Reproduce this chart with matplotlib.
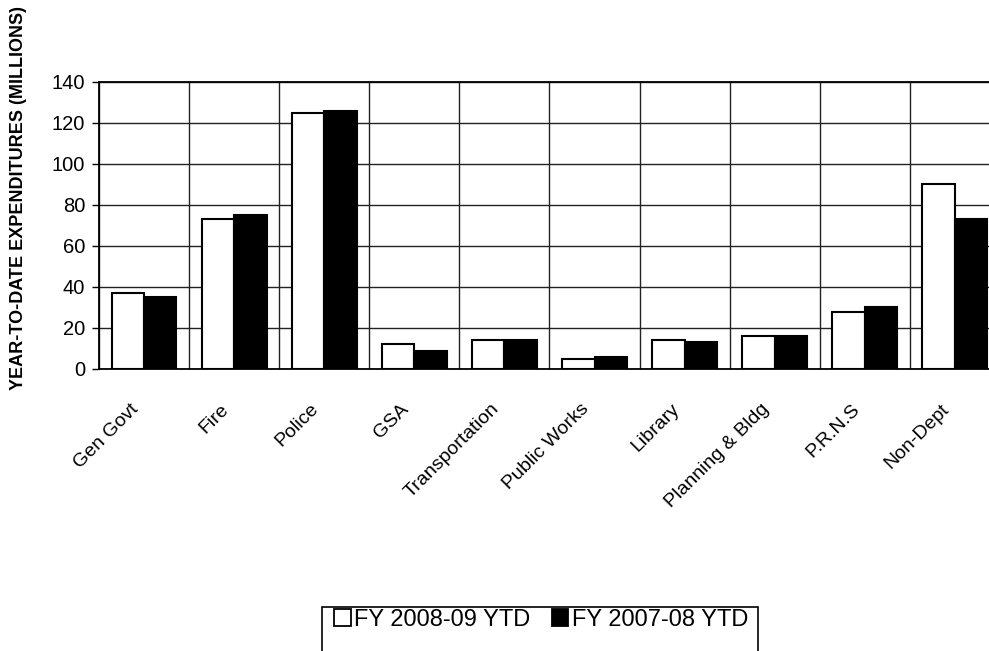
import matplotlib.pyplot as plt
import numpy as np
import matplotlib.transforms as mtransforms
from matplotlib.patches import Patch, Rectangle

plt.rcParams['font.family'] = ['Liberation Sans', 'DejaVu Sans']

departments = ['Gen Govt', 'Fire', 'Police', 'GSA', 'Transportation',
               'Public Works', 'Library', 'Planning & Bldg', 'P.R.N.S', 'Non-Dept']
fy_2008_09 = [37, 73, 125, 12, 14, 5, 14, 16, 28, 90]
fy_2007_08 = [35, 75, 126, 9, 14, 6, 13, 16, 30, 73]
series_labels = ['FY 2008-09 YTD', 'FY 2007-08 YTD']
y_ticks = [0, 20, 40, 60, 80, 100, 120, 140]

fig = plt.figure(figsize=(9.89, 6.51), dpi=100)
ax = fig.add_axes([0.1001, 0.4332, 0.911, 0.4409])

x = np.arange(len(departments))
w = 0.36
ax.bar(x - w / 2, fy_2008_09, w, color='white', edgecolor='black', linewidth=1.5, zorder=3)
ax.bar(x + w / 2, fy_2007_08, w, color='black', edgecolor='black', linewidth=1.5, zorder=3)

ax.set_xlim(-0.5, len(departments) - 0.5)
ax.set_ylim(0, 140)
ax.set_yticks(y_ticks)
ax.set_xticks(x)
ax.set_xticks(np.arange(len(departments) + 1) - 0.5, minor=True)
ax.grid(True, axis='y', which='major', color='#222222', linewidth=1.0, zorder=0)
ax.grid(True, axis='x', which='minor', color='#222222', linewidth=1.0, zorder=0)
ax.tick_params(axis='x', which='both', length=0, pad=27)
ax.tick_params(axis='y', length=5, width=1, pad=5, labelsize=14.5)
ax.set_xticklabels(departments, rotation=45, ha='right', va='center',
                   rotation_mode='anchor', fontsize=14)
shift = mtransforms.ScaledTranslation(-0.08, 0, fig.dpi_scale_trans)
for lab in ax.get_xticklabels():
    lab.set_transform(lab.get_transform() + shift)
for s in ax.spines.values():
    s.set_linewidth(1.3)

fig.text(19 / 989, 1 - 198 / 651, 'YEAR-TO-DATE EXPENDITURES (MILLIONS)',
         rotation=90, ha='center', va='center', fontsize=13, fontweight='bold')

handles = [Patch(facecolor='white', edgecolor='black', linewidth=1.3),
           Patch(facecolor='black', edgecolor='black', linewidth=1.3)]
leg = fig.legend(handles, series_labels, loc='upper center',
                 bbox_to_anchor=(541 / 989, 1 - 605 / 651), ncol=2, fontsize=17,
                 frameon=False, handlelength=0.7, handleheight=0.7,
                 handletextpad=0.15, columnspacing=0.9, borderpad=0.15,
                 borderaxespad=0)
fig.add_artist(Rectangle((322 / 989, -0.05), 436 / 989, 0.05 + 44 / 651,
                         transform=fig.transFigure, facecolor='none',
                         edgecolor='black', linewidth=1.2))

fig.savefig('out.png', dpi=100)
